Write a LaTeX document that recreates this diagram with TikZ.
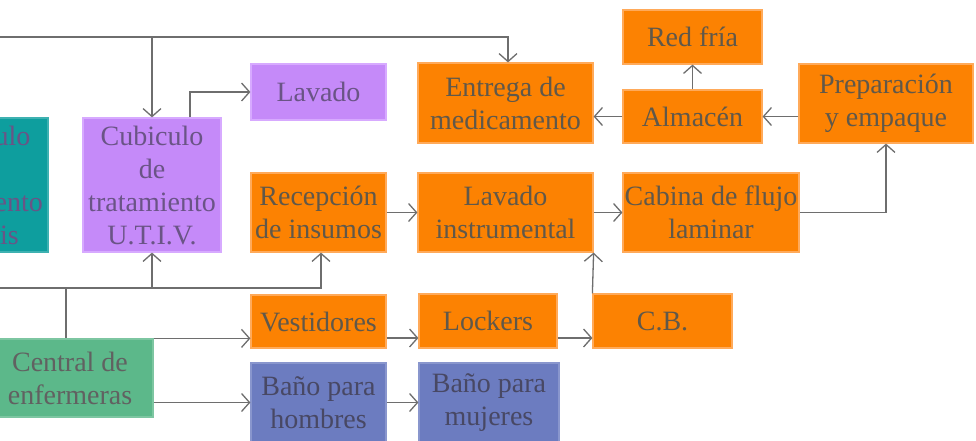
\documentclass[tikz,border=0pt]{standalone}
\usepackage{fontspec}
\setmainfont{Liberation Serif}
\usetikzlibrary{arrows.meta}
\definecolor{orbox}{RGB}{252,130,2}
\definecolor{orline}{RGB}{255,170,90}
\definecolor{pubox}{RGB}{197,138,249}
\definecolor{puline}{RGB}{215,170,255}
\definecolor{tealbox}{RGB}{14,158,158}
\definecolor{grbox}{RGB}{92,184,138}
\definecolor{blbox}{RGB}{108,124,192}
\definecolor{bltext}{RGB}{72,72,100}
\definecolor{ortext}{RGB}{96,88,74}
\definecolor{putext}{RGB}{106,84,134}
\definecolor{conn}{RGB}{110,110,110}
\tikzset{
  x=1pt,y=-1pt,
  box/.style={rectangle,inner sep=0pt,align=center,line width=1.2pt,
     font=\fontsize{28}{33}\selectfont},
  orb/.style={box,fill=orbox,draw=orline,text=ortext},
  pub/.style={box,fill=pubox,draw=puline,text=putext},
  tlb/.style={box,fill=tealbox,draw=tealbox!80!white,text=putext},
  grb/.style={box,fill=grbox,draw=grbox!80!white,text=black!62},
  blb/.style={box,fill=blbox,draw=blbox!80!white,text=bltext},
  arr/.style={draw=conn,line width=1.3pt,-{Straight Barb[length=8pt,width=18pt]}},
  ln/.style={draw=conn,line width=1.3pt},
}
\begin{document}
\begin{tikzpicture}
\clip (0,0) rectangle (976,440);
\fill[white] (0,0) rectangle (976,440);
% nodes
\node[tlb,minimum width=138,minimum height=134] (dial) at (-21,185) {Cubiculo\\de\\tratamiento\\diálisis};
\node[pub,minimum width=138,minimum height=134] (cub) at (152,185) {Cubiculo\\de\\tratamiento\\U.T.I.V.};
\node[pub,minimum width=135,minimum height=56] (lav) at (318.5,92) {Lavado};
\node[orb,minimum width=135,minimum height=79] (rec) at (318.5,212.5) {Recepción\\de insumos};
\node[orb,minimum width=175,minimum height=80] (ent) at (505.5,103) {Entrega de\\medicamento};
\node[orb,minimum width=139,minimum height=54] (red) at (692.5,37) {Red fría};
\node[orb,minimum width=139,minimum height=53] (alm) at (692.5,116.5) {Almacén};
\node[orb,minimum width=174,minimum height=79] (prep) at (886,103.5) {Preparación\\y empaque};
\node[orb,minimum width=175,minimum height=79] (lavi) at (505.5,212.5) {Lavado\\instrumental};
\node[orb,minimum width=176,minimum height=79] (cab) at (711,212.5) {Cabina de flujo\\laminar};
\node[orb,minimum width=135,minimum height=53] (ves) at (318.5,321.5) {Vestidores};
\node[orb,minimum width=138,minimum height=54] (loc) at (488,321) {Lockers};
\node[orb,minimum width=139,minimum height=54] (cb) at (662.5,321) {C.B.};
\node[blb,minimum width=135,minimum height=79] (bh) at (318.5,402.5) {Baño para\\hombres};
\node[blb,minimum width=140,minimum height=79] (bm) at (489,402.5) {Baño para\\mujeres};
\node[grb,minimum width=166,minimum height=78] (cen) at (70,378) {Central de\\enfermeras};
% coordinates for free ends
\coordinate (topl) at (-5,37);
\coordinate (botl) at (-5,288);
\coordinate (tj) at (152,37);
\coordinate (bj) at (152,288);
\coordinate (cj) at (66,288);
\coordinate (vesout) at ([yshift=-16.5]ves.east);
\coordinate (locout) at ([yshift=-17]loc.east);
% connectors
\draw[arr] (topl) -| ([xshift=2.5]ent.north);
\draw[arr] (tj) -- (cub.north);
\draw[arr] ([xshift=38]cub.north) |- (lav.west);
\draw[arr] (botl) -| ([xshift=2.5]rec.south);
\draw[arr] (bj) -- (cub.south);
\draw[ln] (cj) -- (cj |- cen.north);
\draw[arr] (cen.north east) -- (ves.west |- cen.north east);
\draw[arr] (cen.east |- bh.west) -- (bh.west);
\draw[arr] (rec.east) -- (lavi.west);
\draw[arr] (lavi.east) -- (cab.west);
\draw[arr] (cab.east) -| (prep.south);
\draw[arr] (prep.west |- alm.east) -- (alm.east);
\draw[arr] (alm.west) -- (ent.east |- alm.west);
\draw[arr] (alm.north) -- (red.south);
\draw[arr] (vesout) -- (loc.west |- vesout);
\draw[arr] (locout) -- (cb.west |- locout);
\draw[arr] (cb.north west) -- (lavi.south east);
\draw[arr] (bh.east) -- (bm.west |- bh.east);
\end{tikzpicture}
\end{document}
